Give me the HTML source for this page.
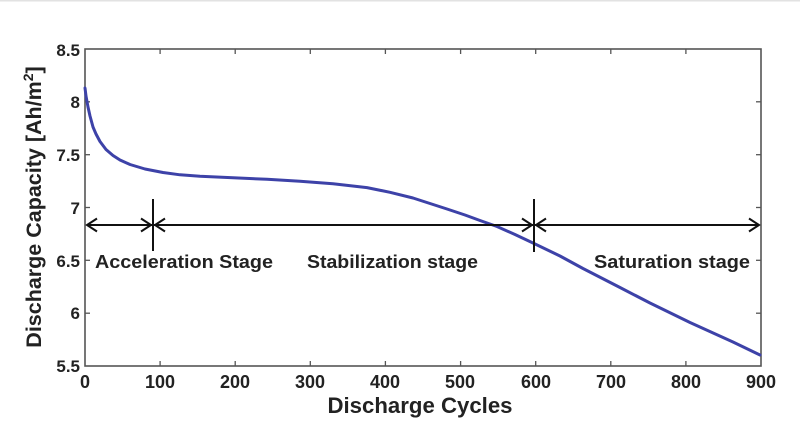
<!DOCTYPE html>
<html><head><meta charset="utf-8"><style>
html,body{margin:0;padding:0;background:#fff;}
svg{display:block;}
text{font-family:"Liberation Sans",Arial,sans-serif;font-weight:bold;fill:#222;}
</style></head><body>
<svg width="800" height="426" viewBox="0 0 800 426" xmlns="http://www.w3.org/2000/svg">
<rect x="0" y="0" width="800" height="426" fill="#fff"/>
<line x1="0" y1="0.5" x2="800" y2="0.5" stroke="#e2e2e2" stroke-width="2"/>
<rect x="85" y="49" width="676" height="317" fill="none" stroke="#555" stroke-width="1.6"/>
<g stroke="#555" stroke-width="1.3">
<line x1="160.1" y1="366" x2="160.1" y2="361"/><line x1="235.2" y1="366" x2="235.2" y2="361"/>
<line x1="310.3" y1="366" x2="310.3" y2="361"/><line x1="385.4" y1="366" x2="385.4" y2="361"/>
<line x1="460.6" y1="366" x2="460.6" y2="361"/><line x1="535.7" y1="366" x2="535.7" y2="361"/>
<line x1="610.8" y1="366" x2="610.8" y2="361"/><line x1="685.9" y1="366" x2="685.9" y2="361"/>
<line x1="160.1" y1="49" x2="160.1" y2="54"/><line x1="235.2" y1="49" x2="235.2" y2="54"/>
<line x1="310.3" y1="49" x2="310.3" y2="54"/><line x1="385.4" y1="49" x2="385.4" y2="54"/>
<line x1="460.6" y1="49" x2="460.6" y2="54"/><line x1="535.7" y1="49" x2="535.7" y2="54"/>
<line x1="610.8" y1="49" x2="610.8" y2="54"/><line x1="685.9" y1="49" x2="685.9" y2="54"/>
<line x1="85" y1="101.8" x2="90" y2="101.8"/><line x1="85" y1="154.7" x2="90" y2="154.7"/>
<line x1="85" y1="207.5" x2="90" y2="207.5"/><line x1="85" y1="260.3" x2="90" y2="260.3"/>
<line x1="85" y1="313.2" x2="90" y2="313.2"/>
<line x1="761" y1="101.8" x2="756" y2="101.8"/><line x1="761" y1="154.7" x2="756" y2="154.7"/>
<line x1="761" y1="207.5" x2="756" y2="207.5"/><line x1="761" y1="260.3" x2="756" y2="260.3"/>
<line x1="761" y1="313.2" x2="756" y2="313.2"/>
</g>
<g font-size="17" text-anchor="end">
<text x="80" y="56">8.5</text>
<text x="80" y="108">8</text>
<text x="80" y="161">7.5</text>
<text x="80" y="214">7</text>
<text x="80" y="267">6.5</text>
<text x="80" y="319">6</text>
<text x="80" y="372">5.5</text>
</g>
<g font-size="18" text-anchor="middle">
<text x="85" y="388">0</text>
<text x="160" y="388">100</text>
<text x="235" y="388">200</text>
<text x="310" y="388">300</text>
<text x="385" y="388">400</text>
<text x="460" y="388">500</text>
<text x="536" y="388">600</text>
<text x="611" y="388">700</text>
<text x="686" y="388">800</text>
<text x="761" y="388">900</text>
</g>
<text x="420" y="413" font-size="22" text-anchor="middle" textLength="185" lengthAdjust="spacingAndGlyphs">Discharge Cycles</text>
<text transform="translate(41,207) rotate(-90)" font-size="21.5" text-anchor="middle">Discharge Capacity [Ah/m<tspan dy="-8" font-size="14">2</tspan><tspan dy="8">]</tspan></text>
<path d="M85,88 L86,96 L88,107 L90,116 L93,127 L96,134 L100,141.5 L106,149.5 L113,155.5 L120,160 L130,164.5 L145,169 L163,172.5 L180,174.8 L200,176.3 L233,177.8 L267,179.3 L300,181.3 L333,183.8 L367,187.6 L390,192.3 L413,198 L430,203.5 L447,209 L465,215 L480,220.5 L497,226.5 L515,234.5 L533,243 L560,256 L583,268.5 L620,287.5 L650,303 L690,322.5 L733,342 L760,355" fill="none" stroke="#3d42a8" stroke-width="3" stroke-linejoin="round" stroke-linecap="round"/>
<g stroke="#111" stroke-width="2" fill="none">
<line x1="87" y1="225" x2="759" y2="225"/>
<line x1="153" y1="199" x2="153" y2="251"/>
<line x1="534" y1="199" x2="534" y2="252"/>
<polyline points="97,218.5 87,225 97,231.5"/>
<polyline points="141,218.5 151,225 141,231.5"/>
<polyline points="165,218.5 155,225 165,231.5"/>
<polyline points="522,218.5 532,225 522,231.5"/>
<polyline points="546,218.5 536,225 546,231.5"/>
<polyline points="749,218.5 759,225 749,231.5"/>
</g>
<g font-size="18">
<text x="95" y="268" textLength="178" lengthAdjust="spacingAndGlyphs">Acceleration Stage</text>
<text x="307" y="268" textLength="171" lengthAdjust="spacingAndGlyphs">Stabilization stage</text>
<text x="594" y="268" textLength="156" lengthAdjust="spacingAndGlyphs">Saturation stage</text>
</g>
</svg>
</body></html>
